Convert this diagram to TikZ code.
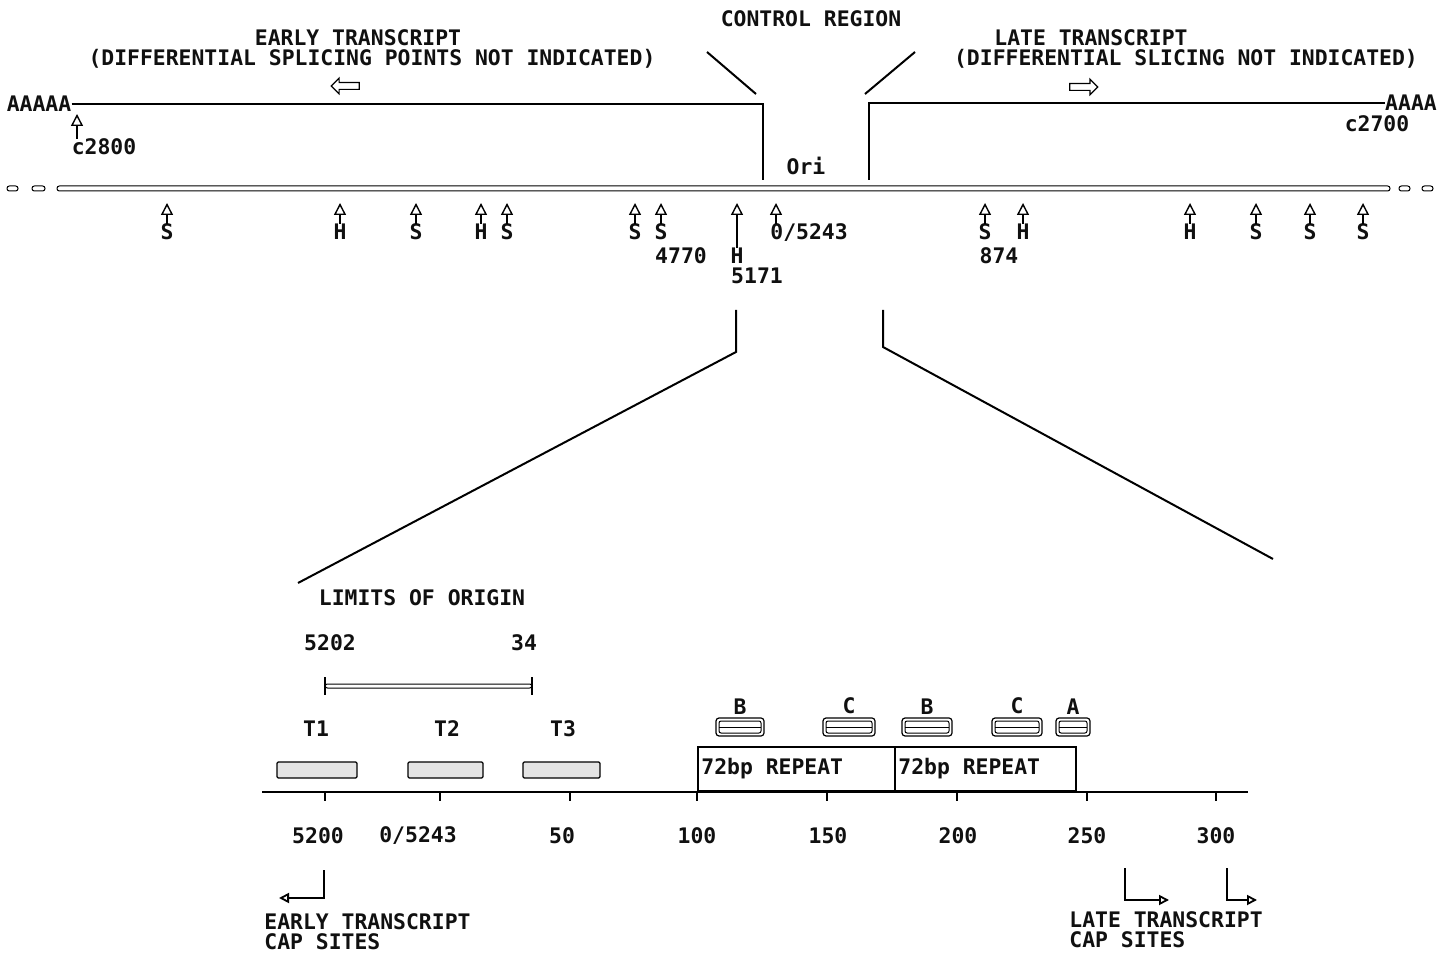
\documentclass[tikz,border=0pt]{standalone}
\usepackage{fontspec}
\setmonofont{DejaVu Sans Mono}
\usepackage{tikz}
\usetikzlibrary{
  arrows.meta,
  positioning,
  shapes.arrows
}
\definecolor{InkBlack}{HTML}{101010}
\definecolor{StippleGray}{HTML}{E4E4E4}
\newcommand{\mapfont}{\fontsize{10.7}{10}\selectfont\ttfamily\bfseries}
\tikzset{
  tag/.style={
    font=\mapfont,
    inner sep=0pt,
    text=InkBlack
  },
  site/.style={
    -{Triangle[open,length=6pt,width=6pt]},
    line width=0.7pt
  },
  capsite/.style={
    -{Triangle[open,length=5pt,width=5pt]},
    line width=0.9pt
  },
  trline/.style={
    line width=1.1pt
  },
  zoomline/.style={
    line width=1pt
  },
  rod/.style={
    draw,
    line width=0.5pt,
    rounded corners=1.2pt
  },
  tbox/.style={
    draw,
    line width=0.6pt,
    fill=StippleGray,
    rounded corners=0.6pt,
    minimum height=8pt,
    inner sep=0pt
  },
  enh/.style={
    draw,
    line width=0.6pt,
    rounded corners=1.5pt,
    minimum height=9pt,
    inner sep=0pt,
    path picture={
      \draw[line width=0.5pt, rounded corners=1pt]
        ([xshift=1.5pt,yshift=-1.5pt]path picture bounding box.north west)
        rectangle ([xshift=-1.5pt,yshift=1.5pt]path picture bounding box.south east);
      \draw[line width=0.5pt]
        ([xshift=1.5pt]path picture bounding box.west) --
        ([xshift=-1.5pt]path picture bounding box.east);
    }
  },
  repeatbox/.style={
    draw,
    line width=1pt,
    minimum height=22pt,
    inner sep=0pt,
    anchor=south west
  },
  dirarrow/.style={
    single arrow,
    draw,
    line width=0.6pt,
    minimum height=14pt,
    inner sep=1.4pt,
    single arrow head extend=2.2pt
  }
}

\begin{document}
\begin{tikzpicture}[
  x=0.5pt,
  y=-0.5pt
]
  \useasboundingbox (0,0) rectangle (1451,956);

  % upper map: transcripts
  \node[tag] (ctrl) at (811,19) {CONTROL REGION};
  \node[tag] (earlyTitle) at (358,38) {EARLY TRANSCRIPT};
  \node[tag] (earlyNote) at (372,59) {(DIFFERENTIAL SPLICING POINTS NOT INDICATED)};
  \node[tag] (lateTitle) at (1091,38) {LATE TRANSCRIPT};
  \node[tag] (lateNote) at (1186,59) {(DIFFERENTIAL SLICING NOT INDICATED)};
  \node[dirarrow, shape border rotate=180] (earlyDir) at (347,86) {};
  \node[dirarrow] (lateDir) at (1082,87) {};

  \node[tag] (polyAL) at (39,104) {AAAAA};
  \node[tag] (polyAR) at (1411,103) {AAAA};
  \node[tag] (c2800) at (104,147) {c2800};
  \node[tag] (c2700) at (1377,124) {c2700};
  \node[tag] (ori) at (806,166) {Ori};

  \coordinate (earlyEnd) at (763,180);
  \coordinate (lateEnd) at (869,180);
  \draw[trline] (polyAL.east) -| (earlyEnd);
  \draw[trline] (lateEnd) |- (polyAR.west);

  \coordinate (ctrlL1) at (707,52);
  \coordinate (ctrlL2) at (756,94);
  \coordinate (ctrlR1) at (915,52);
  \coordinate (ctrlR2) at (865,94);
  \draw[zoomline] (ctrlL1) -- (ctrlL2);
  \draw[zoomline] (ctrlR1) -- (ctrlR2);

  \coordinate (c2800tip) at (77,114);
  \draw[site] (c2800tip |- c2800.north) -- (c2800tip);

  % genome
  \draw[rod] (7,186) rectangle (18,191);
  \draw[rod] (32,186) rectangle (45,191);
  \draw[rod] (57,186) rectangle (1390,191);
  \draw[rod] (1399,186) rectangle (1410,191);
  \draw[rod] (1422,186) rectangle (1433,191);

  \foreach \x/\t in {167/S, 340/H, 416/S, 481/H, 507/S, 635/S, 661/S,
                     985/S, 1023/H, 1190/H, 1256/S, 1310/S, 1363/S} {
    \node[tag] (site\x) at (\x,232) {\t};
    \coordinate (tip\x) at (\x,203);
    \draw[site] (site\x.north) -- (tip\x);
  }
  \node[tag] (pos4770) at (681,256) {4770};
  \node[tag] (pos874) at (999,256) {874};

  \node[tag] (siteH5171) at (737,256) {H};
  \node[tag] (pos5171) at (757,276) {5171};
  \coordinate (tip5171) at (737,203);
  \draw[site] (siteH5171.north) -- (tip5171);

  \node[tag, anchor=west] (pos0) at (770,233) {0/5243};
  \coordinate (tip0) at (776,203);
  \draw[site] (pos0.north west -| tip0) -- (tip0);

  % zoom lines
  \coordinate (zoomL1) at (736,310);
  \coordinate (zoomL2) at (736,352);
  \coordinate (zoomL3) at (298,583);
  \coordinate (zoomR1) at (883,310);
  \coordinate (zoomR2) at (883,347);
  \coordinate (zoomR3) at (1273,559);
  \draw[zoomline] (zoomL1) -- (zoomL2) -- (zoomL3);
  \draw[zoomline] (zoomR1) -- (zoomR2) -- (zoomR3);

  % control region detail
  \node[tag] (limits) at (422,598) {LIMITS OF ORIGIN};
  \node[tag] (pos5202) at (330,643) {5202};
  \node[tag] (pos34) at (524,643) {34};
  \draw[rod] (325,684) rectangle (532,688);
  \coordinate (limL) at (325,677);
  \coordinate (limR) at (532,677);
  \draw[line width=0.9pt] (limL) -- ++(0,18);
  \draw[line width=0.9pt] (limR) -- ++(0,18);

  \node[tbox, minimum width=40pt] (boxT1) at (317,770) {};
  \node[tbox, minimum width=37.5pt] (boxT2) at (445.5,770) {};
  \node[tbox, minimum width=38.5pt] (boxT3) at (561.5,770) {};
  \node[tag] (T1) at (316,729) {T1};
  \node[tag] (T2) at (447,729) {T2};
  \node[tag] (T3) at (563,729) {T3};

  \node[repeatbox, minimum width=98.5pt] (rep1) at (697,792) {};
  \node[repeatbox, minimum width=90.5pt] (rep2) at (894,792) {};
  \node[tag, anchor=west] (rep1txt) at ([xshift=2pt]rep1.west) {72bp REPEAT};
  \node[tag, anchor=west] (rep2txt) at ([xshift=2pt]rep2.west) {72bp REPEAT};

  \node[enh, minimum width=24pt] (enhB1) at (740,727) {};
  \node[enh, minimum width=26pt] (enhC1) at (849,727) {};
  \node[enh, minimum width=25pt] (enhB2) at (927,727) {};
  \node[enh, minimum width=25pt] (enhC2) at (1017,727) {};
  \node[enh, minimum width=17pt] (enhA) at (1073,727) {};
  \node[tag, above=1.5pt of enhB1] (lblB1) {B};
  \node[tag, above=1.5pt of enhC1] (lblC1) {C};
  \node[tag, above=1.5pt of enhB2] (lblB2) {B};
  \node[tag, above=1.5pt of enhC2] (lblC2) {C};
  \node[tag, above=1.5pt of enhA] (lblA) {A};

  % axis
  \draw[line width=1pt] (262,792) -- (1248,792);
  \foreach \x in {325,440,570,697,827,957,1087,1216}
    \draw[line width=1pt] (\x,792) -- (\x,801);
  \foreach \x/\t in {318/5200, 562/50, 697/100, 828/150, 958/200, 1087/250, 1216/300}
    \node[tag] (tick\t) at (\x,836) {\t};
  \node[tag] (tick0) at (418,836) {0/5243};

  % cap sites
  \coordinate (capE) at (324,870);
  \coordinate (capEend) at (279,898);
  \draw[capsite] (capE) |- (capEend);
  \node[tag, anchor=north west, align=left] (earlyCap) at (264,913) {EARLY TRANSCRIPT\\CAP SITES};

  \coordinate (capL1) at (1125,868);
  \coordinate (capL1end) at (1169,900);
  \coordinate (capL2) at (1227,868);
  \coordinate (capL2end) at (1257,900);
  \draw[capsite] (capL1) |- (capL1end);
  \draw[capsite] (capL2) |- (capL2end);
  \node[tag, anchor=north west, align=left] (lateCap) at (1069,911) {LATE TRANSCRIPT\\CAP SITES};

\end{tikzpicture}
\end{document}
